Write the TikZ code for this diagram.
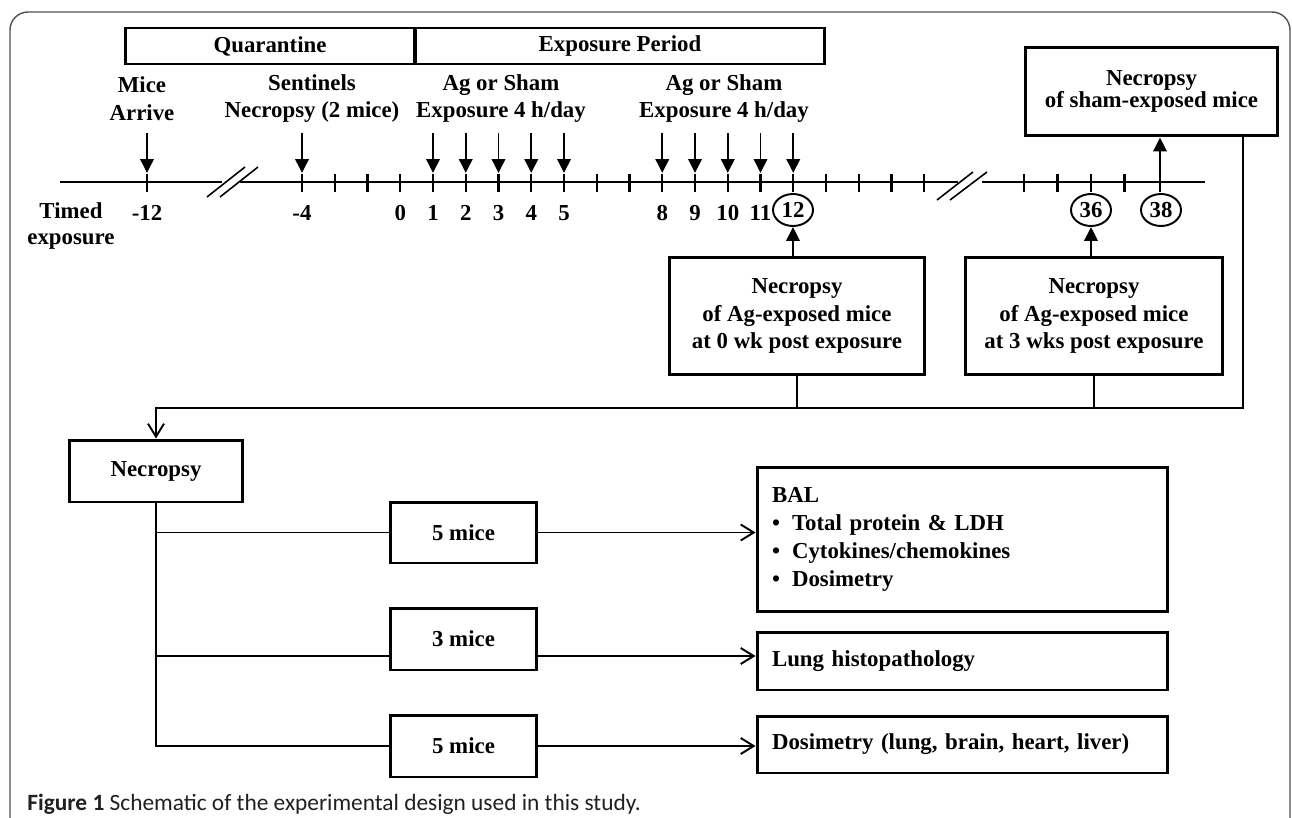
\documentclass[tikz,border=0pt]{standalone}
\usepackage{fontspec}
\setmainfont{Liberation Serif}
\newfontfamily\capfont{Carlito}
\usetikzlibrary{arrows.meta,shapes.geometric,calc}
\definecolor{capgray}{HTML}{231F20}
\definecolor{framegray}{HTML}{505050}
\newcommand\bul{\makebox[0.4cm][l]{\textbullet}}

\begin{document}
\begin{tikzpicture}[x=0.02cm,y=-0.02cm,
	font=\fontsize{13}{15.6}\selectfont\bfseries,
	box/.style={draw,line width=1.7pt,inner sep=0pt,align=center},
	listbox/.style={box,align=left,text width=7.62cm,inner xsep=0.3cm},
	lbl/.style={align=center,inner sep=0pt},
	circ/.style={ellipse,draw,line width=1.1pt,minimum width=0.8cm,minimum height=0.64cm,inner sep=0pt},
	axis/.style={line width=1.7pt},
	tick/.style={line width=1.3pt},
	slash/.style={line width=0.9pt},
	conn/.style={line width=1.1pt},
	downarr/.style={line width=1.1pt,-{Triangle[length=0.28cm,width=0.27cm]},shorten >=0.18cm},
	uparr/.style={line width=1.1pt,-{Triangle[length=0.28cm,width=0.27cm]}},
	openarr/.style={line width=1.1pt,-{Straight Barb[length=0.26cm,width=0.32cm,line width=1.1pt]}}]
	\useasboundingbox (0,0) rectangle (1292,818);
	\draw[framegray,line width=0.8pt,rounded corners=0.36cm] (10,840) -- (10,12) -- (1290,12) -- (1290,840);

	\node[box,minimum width=5.8cm,minimum height=0.72cm] (quar) at (270,46) {Quarantine};
	\node[box,minimum width=8.2cm,minimum height=0.72cm] (expo) at (620,46) {Exposure Period};

	\node[lbl] (arrive) at (142,98.5) {Mice\\Arrive};
	\node[lbl] (sentinel) at (312,98.5) {Sentinels\\Necropsy (2 mice)};
	\node[lbl] (agA) at (501,98.5) {Ag or Sham\\Exposure 4 h/day};
	\node[lbl] (agB) at (724,98.5) {Ag or Sham\\Exposure 4 h/day};
	\node[lbl,font=\fontsize{13}{14.8}\selectfont\bfseries] (timed) at (71,226) {Timed\\exposure};

	\draw[axis] (60,182) -- (222,182);
	\draw[axis] (240,182) -- (958,182);
	\draw[axis] (982,182) -- (1205,182);
	\draw[slash] (207,197) -- (245,167);
	\draw[slash] (220,197) -- (258,167);
	\draw[slash] (937,200) -- (973,172);
	\draw[slash] (950,200) -- (987,172);

	\coordinate (tm12) at (147,182);
	\draw[tick] (147,174) -- (147,192);
	\foreach \i in {0,...,19}{
		\coordinate (t\i) at (302+32.75*\i,182);
		\draw[tick] (302+32.75*\i,174) -- (302+32.75*\i,192);
	}
	\foreach \i in {0,...,3}
		\draw[tick] (1024+33.5*\i,174) -- (1024+33.5*\i,192);

	\draw[downarr] ($(tm12)+(0,-49)$) -- (tm12);
	\foreach \i in {0,4,5,6,7,8,11,12,13,14,15}
		\draw[downarr] ($(t\i)+(0,-49)$) -- (t\i);

	\node[lbl] (lm12) at (147,213) {-12};
	\foreach \i/\lab in {0/-4,3/0,4/1,5/2,6/3,7/4,8/5,11/8,12/9,13/10,14/11}
		\node[lbl] (l\i) at (302+32.75*\i,213) {\lab};
	\node[circ] (c12) at (793,210) {12};
	\node[circ] (c36) at (1091,210) {36};
	\node[circ] (c38) at (1161,210) {38};

	\node[box,minimum width=5.06cm,minimum height=1.78cm,font=\fontsize{13}{12.5}\selectfont\bfseries] (sham) at (1151.5,91.5) {Necropsy\\of sham-exposed mice};
	\node[box,minimum width=5.12cm,minimum height=2.36cm] (wk0) at (797,316) {Necropsy\\of Ag-exposed mice\\at 0 wk post exposure};
	\node[box,minimum width=5.16cm,minimum height=2.36cm] (wk3) at (1094,316) {Necropsy\\of Ag-exposed mice\\at 3 wks post exposure};

	\coordinate (u38) at (1160,192);
	\draw[uparr] (u38) -- (u38 |- sham.south);
	\draw[uparr] (wk0.north -| c12) -- (c12.south);
	\draw[uparr] (wk3.north -| c36) -- (c36.south);

	\node[box,minimum width=3.48cm,minimum height=1.24cm] (nec) at (156,471) {Necropsy};
	\node[box,minimum width=2.94cm,minimum height=1.22cm] (m5a) at (463.5,532.5) {5 mice};
	\node[box,minimum width=2.94cm,minimum height=1.24cm] (m3) at (463.5,639) {3 mice};
	\node[box,minimum width=2.94cm,minimum height=1.24cm] (m5b) at (463.5,746) {5 mice};

	\node[listbox,minimum height=2.9cm,font=\fontsize{13}{15.9}\selectfont\bfseries] (bal) at (962.5,539.5) {BAL\\\bul Total protein \& LDH\\\bul Cytokines/chemokines\\\bul Dosimetry};
	\node[listbox,minimum height=1.16cm] (lung) at (962.5,661) {Lung histopathology};
	\node[listbox,minimum height=1.14cm] (dosi) at (962.5,744.5) {Dosimetry (lung, brain, heart, liver)};

	\coordinate (bus) at (1243,408);
	\draw[openarr] (sham.south -| bus) -- (bus) -| (nec.north);
	\draw[conn] (wk0.south) -- (wk0.south |- bus);
	\draw[conn] (wk3.south) -- (wk3.south |- bus);

	\coordinate (b3) at (156,656);
	\draw[conn] (nec.south) |- (m5b.west);
	\draw[conn] (nec.south |- m5a.west) -- (m5a.west);
	\draw[conn] (b3) -- (b3 -| m3.west);
	\draw[openarr] (m5a.east) -- (m5a.east -| bal.west);
	\draw[openarr] (b3 -| m3.east) -- (b3 -| lung.west);
	\draw[openarr] (m5b.east) -- (m5b.east -| dosi.west);

	\node[anchor=west,inner sep=0pt,text=capgray,font=\capfont\fontsize{13.3}{16}\selectfont] (cap) at (27,804) {\textbf{Figure 1} Schematic of the experimental design used in this study.};
\end{tikzpicture}
\end{document}
